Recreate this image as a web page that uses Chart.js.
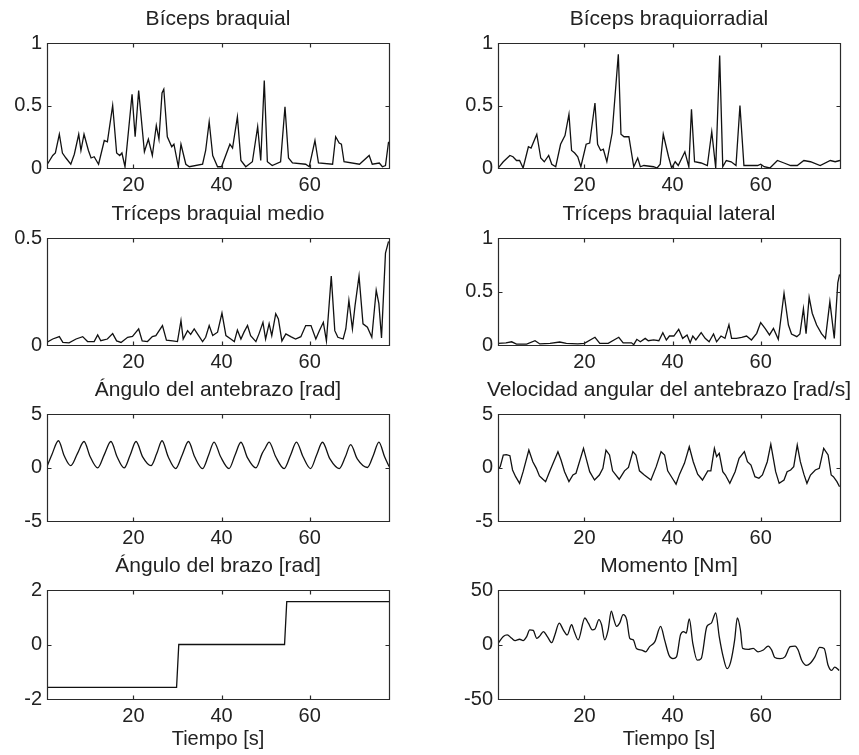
<!DOCTYPE html>
<html>
<head>
<meta charset="utf-8">
<script src="https://cdn.jsdelivr.net/npm/chart.js@4"></script>
<style>
html, body { margin: 0; padding: 0; background: #fff; }
#wrap { position: relative; width: 859px; height: 755px; overflow: hidden; }
#wrap canvas { position: absolute; }
</style>
</head>
<body>
<div id="wrap"></div>
<script>
// tiempo [s] ticks shared by all panels
const xTicks = [20, 40, 60];
const xMin = 0.4, xMax = 78;

// [t, valor]
const bicepsBraquial = [[0.3,0.02],[1.0,0.06],[1.7,0.10],[2.3,0.12],[3.2,0.27],[3.9,0.12],[4.7,0.08],[5.8,0.03],[6.6,0.11],[7.6,0.27],[8.1,0.14],[8.8,0.27],[9.8,0.14],[10.4,0.08],[11.1,0.09],[12.1,0.03],[13.4,0.22],[14.1,0.21],[15.3,0.50],[16.2,0.12],[16.9,0.10],[17.4,0.12],[18.1,0.01],[19.7,0.59],[20.4,0.25],[21.2,0.62],[22.5,0.13],[23.4,0.23],[24.3,0.10],[25.2,0.34],[25.8,0.23],[26.5,0.60],[26.9,0.63],[27.7,0.25],[28.7,0.17],[29.2,0.19],[30.2,0.01],[30.8,0.19],[31.9,0.03],[32.7,0.01],[35.7,0.03],[36.4,0.14],[37.2,0.37],[38.0,0.10],[39.1,0.01],[40.0,0.01],[41.9,0.19],[42.5,0.16],[43.6,0.41],[44.4,0.06],[45.5,0.01],[47.0,0.05],[48.2,0.33],[48.9,0.06],[49.7,0.70],[50.4,0.05],[51.5,0.02],[53.4,0.05],[54.4,0.49],[55.2,0.08],[56.1,0.04],[59.1,0.03],[59.9,0.01],[61.2,0.22],[62.0,0.04],[65.2,0.03],[65.9,0.25],[66.7,0.20],[67.2,0.19],[67.8,0.05],[71.3,0.03],[73.5,0.10],[74.2,0.03],[75.8,0.04],[76.5,0.01],[77.2,0.02],[77.9,0.21]];

const bicepsBraquiorradial = [[0.43,0],[1.6,0.05],[3.1,0.10],[3.8,0.09],[4.6,0.06],[5.3,0.06],[6.1,0],[7.3,0.17],[7.9,0.16],[9.2,0.27],[10.1,0.08],[10.9,0.05],[11.9,0.10],[12.6,0.03],[13.5,0.01],[14.6,0.19],[15.6,0.26],[16.5,0.43],[17.1,0.14],[17.8,0.12],[18.5,0.09],[19.2,0.01],[20.4,0.19],[21.2,0.20],[22.4,0.52],[23.0,0.19],[23.7,0.14],[24.3,0.15],[25.1,0.05],[26.3,0.28],[27.7,0.91],[28.3,0.27],[29.0,0.25],[30.1,0.25],[31.2,0.01],[32.1,0.08],[32.7,0.01],[33.5,0.02],[35.7,0.01],[36.5,0],[37.2,0.03],[37.9,0.27],[39.1,0.09],[39.8,0],[40.6,0.05],[41.3,0.02],[42.8,0.13],[43.7,0.01],[44.3,0.47],[45.0,0.05],[46.5,0.04],[47.9,0.02],[48.9,0.29],[49.8,0],[50.7,0.90],[51.4,0.01],[52.2,0.06],[53.3,0.05],[54.4,0.02],[55.3,0.50],[56.2,0.02],[59.3,0.02],[60.0,0.03],[60.8,0.01],[62.1,0],[63.8,0.06],[65.3,0.04],[66.8,0.02],[68.3,0.02],[69.8,0.06],[71.3,0.05],[73.5,0.02],[75.8,0.06],[76.9,0.05],[78,0.06]];

const tricepsMedio = [[0.3,0.012],[1.7,0.028],[3.2,0.039],[4.0,0.012],[5.4,0.01],[7.0,0.028],[8.5,0.039],[9.6,0.016],[11.1,0.016],[11.9,0.047],[12.6,0.02],[14.1,0.028],[15.3,0.053],[16.2,0.019],[17.2,0.012],[18.7,0.036],[19.8,0.04],[21.2,0.075],[22.0,0.019],[23.2,0.016],[24.3,0.039],[25.1,0.044],[26.6,0.091],[27.5,0.023],[28.9,0.019],[30.0,0.016],[30.8,0.114],[31.3,0.028],[32.3,0.067],[33.0,0.05],[33.8,0.075],[34.8,0.044],[35.7,0.016],[36.4,0.036],[37.2,0.091],[38.0,0.044],[39.1,0.06],[40.1,0.149],[41.0,0.044],[42.1,0.028],[42.9,0.016],[43.6,0.07],[44.4,0.028],[45.1,0.06],[45.9,0.091],[46.6,0.044],[47.8,0.016],[48.5,0.052],[49.4,0.106],[50.0,0.028],[50.8,0.1],[51.4,0.044],[52.3,0.146],[52.9,0.122],[53.7,0.019],[54.6,0.052],[55.7,0.039],[56.8,0.028],[58.0,0.039],[59.1,0.091],[60.3,0.091],[61.4,0.028],[62.2,0.067],[63.1,0.106],[63.8,0.019],[64.9,0.322],[65.7,0.067],[66.4,0.036],[67.6,0.028],[68.2,0.075],[68.9,0.208],[69.7,0.075],[70.3,0.185],[71.2,0.322],[72.1,0.099],[73.1,0.083],[74.1,0.036],[75.1,0.256],[75.7,0.193],[76.3,0.033],[77.2,0.429],[77.9,0.484]];

const tricepsLateral = [[0.43,0.016],[2.2,0.02],[3.5,0.03],[4.6,0.009],[6.9,0.009],[8.8,0.04],[9.9,0.01],[12.2,0.015],[14.4,0.028],[15.9,0.015],[18.5,0.01],[20.0,0.015],[22.4,0.072],[23.5,0.015],[25.4,0.015],[27.8,0.072],[28.8,0.02],[30.7,0.02],[31.2,0.003],[31.9,0.053],[32.7,0.03],[33.8,0.062],[34.5,0.04],[35.7,0.047],[36.9,0.04],[37.8,0.115],[38.6,0.047],[39.3,0.084],[40.3,0.084],[41.4,0.147],[42.3,0.062],[43.3,0.094],[44.0,0.022],[44.6,0.084],[45.3,0.047],[46.5,0.115],[47.4,0.062],[48.3,0.03],[49.3,0.103],[50.0,0.03],[51.0,0.084],[51.9,0.062],[52.8,0.19],[53.4,0.062],[54.5,0.062],[55.7,0.072],[56.8,0.084],[57.9,0.047],[59.1,0.109],[60.0,0.21],[61.0,0.155],[62.0,0.094],[62.9,0.155],[64.0,0.053],[65.3,0.484],[66.3,0.187],[67.0,0.103],[68.2,0.078],[68.9,0.103],[69.7,0.34],[70.3,0.106],[71.0,0.447],[71.7,0.297],[72.7,0.187],[73.8,0.106],[74.7,0.062],[75.7,0.406],[76.7,0.062],[77.5,0.58],[77.9,0.66]];

const anguloAntebrazo = [[0.3,0.0],[1.5,1.2],[3.0,2.5],[4.3,1.1],[5.8,0.17],[7.3,1.3],[8.8,2.43],[10.2,1.0],[11.9,-0.04],[13.4,1.2],[14.9,2.43],[16.3,1.0],[17.9,-0.04],[19.3,1.2],[20.6,2.43],[22.1,1.0],[24.0,0.17],[25.3,1.3],[26.5,2.5],[27.9,1.0],[29.6,-0.1],[31.1,1.2],[32.5,2.43],[33.9,1.0],[35.7,-0.1],[37.1,1.2],[38.3,2.38],[39.8,1.0],[41.7,-0.1],[43.1,1.2],[44.4,2.36],[45.9,0.9],[47.8,-0.04],[49.2,1.3],[49.9,1.8],[50.8,2.38],[52.3,1.0],[54.2,-0.1],[55.7,1.2],[57.0,2.38],[58.5,1.0],[60.2,-0.1],[61.6,1.2],[62.9,2.36],[64.6,0.8],[66.7,-0.1],[68.1,1.0],[69.3,2.13],[70.8,0.8],[73.1,0.0],[74.5,1.2],[75.7,2.38],[77.0,1.0],[78,0.1]];

const velocidadAntebrazo = [[0.43,-0.14],[0.9,0.07],[1.6,1.17],[2.3,1.2],[3.1,1.1],[3.7,-0.23],[4.4,-0.86],[5.3,-1.48],[6.1,-0.39],[7.4,1.63],[8.3,0.54],[9.1,-0.08],[9.8,-0.79],[10.6,-1.1],[11.2,-1.32],[12.1,-0.39],[14.0,1.48],[14.7,0.7],[15.5,-0.39],[16.5,-1.32],[17.4,-0.7],[18.1,-0.54],[19.8,1.79],[20.4,0.86],[21.2,-0.39],[22.3,-1.17],[23.4,-0.7],[24.2,-0.08],[24.9,1.63],[25.7,1.17],[26.4,-0.31],[27.9,-1.1],[29.1,-0.31],[30.0,0.0],[31.0,1.48],[31.7,1.17],[32.5,-0.31],[33.6,-0.7],[35.1,-1.17],[36.3,0.08],[37.4,1.48],[38.2,1.17],[38.9,-0.31],[40.1,-1.1],[40.8,-1.56],[41.6,-0.62],[42.7,0.39],[43.8,1.94],[44.7,0.54],[45.7,-0.62],[46.8,-1.17],[48.0,-0.31],[48.7,-0.31],[49.5,1.79],[50.0,1.01],[50.6,1.32],[51.4,-0.39],[52.0,-0.7],[53.0,-1.48],[54.2,-0.39],[55.1,0.86],[56.3,1.48],[57.0,0.54],[57.8,0.23],[58.7,-0.86],[59.6,-1.01],[60.4,-0.7],[61.5,0.54],[62.3,2.18],[62.8,1.01],[63.4,-0.39],[64.2,-1.48],[65.3,-1.17],[66.0,-0.39],[66.8,-0.23],[67.5,0.08],[68.3,2.1],[69.0,0.54],[69.8,-0.62],[70.5,-1.48],[71.3,-0.7],[72.4,-0.23],[73.3,-0.08],[74.3,1.79],[75.3,1.17],[76.0,-0.7],[76.5,-0.86],[77.3,-1.32],[77.9,-1.8]];

const anguloBrazo = [[0.3,-1.57],[29.8,-1.57],[30.3,0],[54.3,0],[54.8,1.57],[78,1.57]];

const momento = [[0.43,1.1],[1.6,7.3],[2.5,8.8],[3.5,5.7],[4.3,3.6],[5.3,4.8],[6.1,3.6],[6.9,7.3],[7.6,13.5],[8.4,12.9],[9.2,5.7],[9.9,7.9],[10.7,11.9],[11.6,7.3],[12.6,1.7],[13.3,8.8],[14.3,19.6],[15.2,13.5],[16.1,8.8],[17.1,18.1],[17.7,11.9],[18.6,4.2],[20.1,24.3],[20.9,19.6],[21.8,13.5],[22.4,14.2],[23.3,22.8],[23.9,18.1],[24.6,4.2],[25.4,13.5],[26.1,30.5],[26.7,22.8],[27.3,16.6],[28.0,19.6],[28.8,27.4],[29.6,22.8],[30.3,5.7],[31.1,4.2],[31.8,-3.6],[33.0,-5.1],[33.9,-6.7],[34.8,-2.0],[36.0,2.6],[37.3,16.6],[38.2,4.2],[39.2,-9.8],[40.1,-12.9],[40.9,-11.3],[41.8,8.8],[42.5,11.9],[43.1,10.4],[43.8,23.4],[44.6,1.1],[45.6,-14.4],[46.5,-12.9],[47.8,16.6],[48.8,19.6],[49.8,28.9],[50.6,7.3],[51.5,-11.3],[52.4,-22.2],[53.2,-16.0],[54.1,4.2],[54.7,24.3],[55.4,13.5],[55.9,-3.6],[57.2,-4.5],[58.3,-3.6],[59.4,-6.7],[60.6,-5.1],[61.7,-1.4],[62.5,-5.1],[63.2,-11.9],[64.4,-12.9],[65.5,-11.3],[66.7,-2.0],[67.8,-1.4],[68.5,-5.1],[69.3,-14.4],[70.4,-19.1],[71.2,-17.5],[72.3,-11.3],[73.4,-2.6],[74.4,-3.6],[75.3,-19.1],[76.1,-23.8],[76.8,-20.7],[77.8,-23.8]];

const panels = [
    {title: 'Bíceps braquial', data: bicepsBraquial, yTicks: [0, 0.5, 1], row: 0, col: 0},
    {title: 'Bíceps braquiorradial', data: bicepsBraquiorradial, yTicks: [0, 0.5, 1], row: 0, col: 1},
    {title: 'Tríceps braquial medio', data: tricepsMedio, yTicks: [0, 0.5], row: 1, col: 0},
    {title: 'Tríceps braquial lateral', data: tricepsLateral, yTicks: [0, 0.5, 1], row: 1, col: 1},
    {title: 'Ángulo del antebrazo [rad]', data: anguloAntebrazo, yTicks: [-5, 0, 5], row: 2, col: 0, smooth: true},
    {title: 'Velocidad angular del antebrazo [rad/s]', data: velocidadAntebrazo, yTicks: [-5, 0, 5], row: 2, col: 1},
    {title: 'Ángulo del brazo [rad]', data: anguloBrazo, yTicks: [-2, 0, 2], row: 3, col: 0, xTitle: 'Tiempo [s]'},
    {title: 'Momento [Nm]', data: momento, yTicks: [-50, 0, 50], row: 3, col: 1, xTitle: 'Tiempo [s]', smooth: true}
];

// plot boxes on the page
const rowTop = [43, 238, 414, 590];
const rowBottom = [168, 345, 521, 699];
const colLeft = [47, 498];
const colRight = [389, 840];

Chart.defaults.font.family = '"Liberation Sans", Arial, sans-serif';
Chart.defaults.color = '#222';

// matlab style box with inward ticks
const framePlugin = {
    id: 'frame',
    afterDraw(chart) {
        const {ctx, chartArea: a, scales} = chart;
        const xs = scales.x, ys = scales.y;
        const l = Math.round(a.left) + 0.5, r = Math.round(a.right) + 0.5;
        const t = Math.round(a.top) + 0.5, b = Math.round(a.bottom) + 0.5;
        ctx.save();
        ctx.strokeStyle = '#2a2a2a';
        ctx.lineWidth = 1.2;
        ctx.beginPath();
        ctx.rect(l, t, r - l, b - t);
        xs.ticks.forEach(tk => {
            const px = Math.round(xs.getPixelForValue(tk.value)) + 0.5;
            ctx.moveTo(px, b); ctx.lineTo(px, b - 4);
            ctx.moveTo(px, t); ctx.lineTo(px, t + 4);
        });
        ys.ticks.forEach(tk => {
            const py = Math.round(ys.getPixelForValue(tk.value)) + 0.5;
            ctx.moveTo(l, py); ctx.lineTo(l + 4, py);
            ctx.moveTo(r, py); ctx.lineTo(r - 4, py);
        });
        ctx.stroke();
        ctx.restore();
    }
};

const wrap = document.getElementById('wrap');

panels.forEach(p => {
    const L = colLeft[p.col], R = colRight[p.col];
    const T = rowTop[p.row], B = rowBottom[p.row];
    const axisH = p.xTitle ? 54 : 32;
    const w = (R - L) + 94;
    const h = (B - T) + 39 + axisH + 2;
    const canvas = document.createElement('canvas');
    canvas.width = w;
    canvas.height = h;
    canvas.style.left = (L - 47) + 'px';
    canvas.style.top = (T - 39) + 'px';
    canvas.style.width = w + 'px';
    canvas.style.height = h + 'px';
    wrap.appendChild(canvas);

    const yMin = p.yTicks[0], yMax = p.yTicks[p.yTicks.length - 1];

    new Chart(canvas, {
        type: 'line',
        data: {
            datasets: [{
                data: p.data.map(d => ({x: d[0], y: d[1]})),
                borderColor: '#111',
                borderWidth: 1.3,
                pointRadius: 0,
                tension: 0,
                cubicInterpolationMode: p.smooth ? 'monotone' : 'default',
                fill: false,
                yAxisID: 'y'
            }]
        },
        options: {
            responsive: false,
            animation: false,
            devicePixelRatio: 1,
            layout: {padding: {top: 2, left: 0, right: 0, bottom: 2}},
            plugins: {
                legend: {display: false},
                tooltip: {enabled: false},
                title: {
                    display: true,
                    text: p.title,
                    color: '#222',
                    font: {size: 21, weight: 'normal', lineHeight: '26px'},
                    padding: {top: 0, bottom: 11}
                }
            },
            scales: {
                x: {
                    type: 'linear',
                    min: xMin,
                    max: xMax,
                    grid: {display: false, drawTicks: false},
                    border: {display: false},
                    ticks: {padding: 5, font: {size: 20}, color: '#222', maxRotation: 0, autoSkip: false,
                            callback: v => String(v)},
                    afterBuildTicks: s => { s.ticks = xTicks.map(v => ({value: v})); },
                    afterFit: s => { s.height = axisH; },
                    title: {
                        display: !!p.xTitle,
                        text: p.xTitle || '',
                        color: '#222',
                        font: {size: 20, lineHeight: '24px'},
                        padding: {top: 0, bottom: 2}
                    }
                },
                y: {
                    type: 'linear',
                    position: 'left',
                    min: yMin,
                    max: yMax,
                    grid: {display: false, drawTicks: false},
                    border: {display: false},
                    ticks: {padding: 5, font: {size: 20}, color: '#222', autoSkip: false,
                            callback: v => String(v)},
                    afterBuildTicks: s => { s.ticks = p.yTicks.map(v => ({value: v})); },
                    afterFit: s => { s.width = 47; }
                },
                // empty right axis keeps the plot centred under its title
                yRight: {
                    type: 'linear',
                    position: 'right',
                    min: yMin,
                    max: yMax,
                    grid: {display: false, drawTicks: false},
                    border: {display: false},
                    ticks: {display: false},
                    afterFit: s => { s.width = 47; }
                }
            }
        },
        plugins: [framePlugin]
    });
});
</script>
</body>
</html>
